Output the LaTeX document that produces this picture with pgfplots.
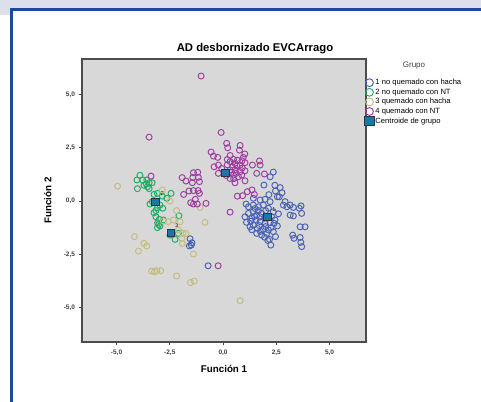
\documentclass[border=0pt]{standalone}
\usepackage{pgfplots}
\pgfplotsset{compat=1.18}
\usepackage{fontspec}
\setmainfont{Liberation Sans}

\definecolor{grpA}{HTML}{4A62B5}
\definecolor{grpB}{HTML}{1EAE62}
\definecolor{grpC}{HTML}{C2BC7E}
\definecolor{grpD}{HTML}{A03CA0}
\definecolor{centfill}{HTML}{1978AA}
\definecolor{plotbg}{HTML}{D8D8D8}
\definecolor{frameblue}{HTML}{1F4A99}
\definecolor{bandgrey}{HTML}{DCE0EC}

\pgfplotsset{
    dotleg/.style={legend image code/.code={\draw[##1,mark options={scale=1.3}] plot coordinates {(0pt,0pt)};}},
    grp/.style={only marks, mark=o, mark size=3pt, draw=#1, line width=0.95pt},
}

\begin{document}
\begin{tikzpicture}[x=1pt,y=1pt]
\path[use as bounding box] (0,0) rectangle (481,401);
\fill[white] (0,0) rectangle (481,401);
\fill[bandgrey] (0,393) rectangle (481,401);
\fill[bandgrey] (0,386) rectangle (10,393);
\draw[frameblue, line width=3pt] (11.5,-2) -- (11.5,391.5) -- (483,391.5);

\begin{axis}[
    at={(82pt,59pt)}, anchor=south west,
    width=284pt, height=283pt, scale only axis,
    xmin=-6.62, xmax=6.71, ymin=-6.62, ymax=6.67,
    axis background/.style={fill=plotbg},
    axis line style={draw=black!70, line width=1.2pt},
    xtick={-5,-2.5,0,2.5,5}, ytick={-5,-2.5,0,2.5,5},
    tick align=outside, tick pos=left,
    major tick length=3.5pt,
    tick style={black!70, line width=1pt},
    /pgf/number format/assume math mode=true,
    /pgf/number format/use comma,
    /pgf/number format/fixed, /pgf/number format/fixed zerofill,
    /pgf/number format/precision=1,
    ticklabel style={font=\bfseries\fontsize{6.5}{8}\selectfont, text=black!75},
    xticklabel style={yshift=-1pt},
    xlabel={\textbf{Función 1}}, ylabel={\textbf{Función 2}},
    label style={font=\fontsize{9.8}{11}\selectfont},
    xlabel style={at={(0.5,-0.07)}, anchor=north},
    ylabel style={at={(-0.095,0.5)}, anchor=south},
    legend style={at={(0.995,0.934)}, anchor=north west, draw=none, fill=none,
        font=\fontsize{7.6}{8}\selectfont, inner sep=0pt, row sep=0pt,
        nodes={inner sep=1.3pt}},
    legend cell align=left,
    dotleg,
    clip=false,
]
\addplot[grp=grpA] coordinates {
(-1.55,-1.77) (-1.46,-1.96) (-1.58,-2.11) (-1.49,-2.07) (-0.70,-3.04)
(2.21,1.14) (2.36,1.36) (2.43,0.74) (2.68,0.63) (2.46,0.47) (2.77,0.39)
(2.64,0.20) (2.91,-0.03) (2.83,-0.19) (3.15,-0.19) (3.30,-0.30) (3.58,-0.34)
(3.66,-0.23) (3.30,-0.70) (3.69,-0.58) (3.62,-1.21) (3.85,-1.21) (3.27,-1.60)
(3.33,-1.75) (3.62,-1.71) (3.65,-1.94) (3.69,-2.14) (2.24,-2.07) (2.46,-1.67)
(2.18,-1.80) (1.92,0.75) (1.42,0.13) (1.08,-0.14) (1.74,0.05) (1.97,0.08)
(2.21,-0.03) (1.42,-0.19) (1.66,-0.27) (1.89,-0.19) (2.13,-0.34) (2.36,-0.50)
(1.42,-0.50) (1.58,-0.66) (1.81,-0.58) (1.35,-0.81) (1.55,-0.89) (1.74,-0.97)
(1.97,-1.05) (2.21,-1.02) (2.44,-0.89) (2.55,-1.17) (1.42,-1.13) (1.61,-1.28)
(1.89,-1.33) (2.13,-1.36) (2.36,-1.44) (1.81,-1.60) (2.05,-1.52) (1.58,-1.52)
(1.19,-0.58) (1.19,-0.27) (1.03,-0.74) (1.27,-1.21) (2.28,-0.74) (1.74,-0.74)
(3.15,-0.66) (3.00,-0.27)
(1.50,-0.35) (1.66,-0.45) (2.00,-0.45) (1.30,-0.95) (1.48,-0.72) (1.95,-0.80)
(2.40,-1.05) (1.70,-1.15) (2.00,-1.20) (1.35,-1.35) (1.75,-1.42) (2.25,-1.25)
(2.60,-0.60) (1.95,-1.70) (2.10,-1.85) (2.55,0.20) (2.15,0.30) (1.10,-1.00)
};
\addlegendentry{1 no quemado con hacha}
\addplot[grp=grpB] coordinates {
(-3.90,1.21) (-4.04,0.99) (-4.02,0.58) (-3.77,0.99) (-3.58,0.99) (-3.47,0.86)
(-3.33,0.86) (-3.71,0.74) (-3.55,0.67) (-3.47,0.58) (-3.24,0.31) (-3.08,0.36)
(-2.85,0.23) (-2.44,0.36) (-2.64,0.13) (-3.43,-0.14) (-3.32,-0.03) (-3.08,-0.31)
(-2.96,-0.19) (-3.24,-0.55) (-3.15,-0.74) (-2.99,-0.86) (-3.07,-1.02) (-2.96,-1.17)
(-3.08,-1.25) (-2.80,-0.89) (-2.07,-0.69) (-2.25,-1.80) (-2.49,-1.60) (-2.10,-1.52)
(-2.83,-0.34) (-3.60,0.80) (-3.15,-0.45) (-3.02,-1.10)
};
\addlegendentry{2 no quemado con NT}
\addplot[grp=grpC] coordinates {
(-4.95,0.70) (-2.85,0.52) (-2.49,0.00) (-2.18,-0.45) (-2.33,-0.89) (-2.57,-0.97)
(-2.80,-0.94) (-2.02,-0.97) (-2.10,-1.36) (-1.89,-1.52) (-1.74,-1.52) (-1.94,-1.75)
(-1.91,-1.99) (-1.08,-0.30) (-0.85,-1.00) (-1.39,-2.49) (-4.16,-1.67) (-3.97,-2.35)
(-3.71,-1.99) (-3.58,-2.11) (-3.35,-3.29) (-3.22,-3.32) (-3.11,-3.27) (-2.93,-3.27)
(-2.18,-3.52) (-1.53,-3.83) (-1.35,-3.76) (0.80,-4.68)
};
\addlegendentry{3 quemado con hacha}
\addplot[grp=grpD] coordinates {
(-1.03,5.87) (-3.47,3.00) (-3.38,1.17) (-0.09,3.22) (0.17,2.71) (0.22,2.50)
(0.80,2.61) (0.77,2.39) (-0.56,2.30) (-0.45,2.11) (-0.25,2.05) (0.33,2.14)
(1.02,2.21) (0.49,1.96) (0.67,1.92) (0.89,1.89) (0.33,1.85) (0.56,1.77)
(0.80,1.69) (1.03,1.80) (-0.22,1.69) (-0.42,1.61) (-0.06,1.53) (0.33,1.46)
(0.56,1.46) (0.80,1.38) (1.03,1.42) (0.49,1.22) (0.72,1.14) (0.33,1.06)
(0.56,0.86) (1.03,0.95) (-0.22,1.30) (1.38,1.69) (1.71,1.88) (1.74,1.69)
(1.58,1.30) (1.94,1.27) (1.36,0.52) (1.14,0.44) (0.92,0.25) (0.67,0.23)
(1.47,0.31) (0.33,-0.52) (-1.39,1.33) (-1.19,1.35) (-1.42,1.11) (-1.16,1.11)
(-1.11,0.91) (-1.92,1.10) (-1.74,0.94) (-1.44,0.86) (-1.85,0.31) (-1.60,0.47)
(-1.39,0.49) (-1.17,0.49) (-1.11,0.36) (-1.30,0.08) (-1.52,-0.08) (-1.39,-0.14)
(-1.21,-0.14) (-0.80,-0.11) (-0.23,-3.04)
(0.45,1.60) (0.65,1.65) (0.90,1.55) (0.20,1.70) (0.40,1.35) (0.62,1.30)
(0.88,1.22) (0.15,1.20) (0.50,1.05) (0.95,2.05) (0.20,1.95)
};
\addlegendentry{4 quemado con NT}
\addplot[only marks, mark=square*, mark size=3.6pt, draw=black!80, fill=centfill, line width=0.6pt] coordinates {
(2.08,-0.75) (-3.18,-0.02) (-2.47,-1.50) (0.11,1.33)
};
\addlegendentry{Centroide de grupo}
\node[font=\fontsize{5.5}{6}\selectfont] at (axis cs:2.39,-0.39) {1};
\node[font=\fontsize{5.5}{6}\selectfont] at (axis cs:-2.85,0.36) {2};
\node[font=\fontsize{5.5}{6}\selectfont] at (axis cs:-2.16,-1.14) {3};
\node[font=\fontsize{5.5}{6}\selectfont] at (axis cs:0.44,1.74) {4};
\end{axis}
\node[font=\bfseries\fontsize{11.3}{12}\selectfont] at (255,352) {AD desbornizado EVCArrago};
\node[font=\fontsize{8}{9}\selectfont, text=black!75] at (414,335) {Grupo};
\end{tikzpicture}
\end{document}
